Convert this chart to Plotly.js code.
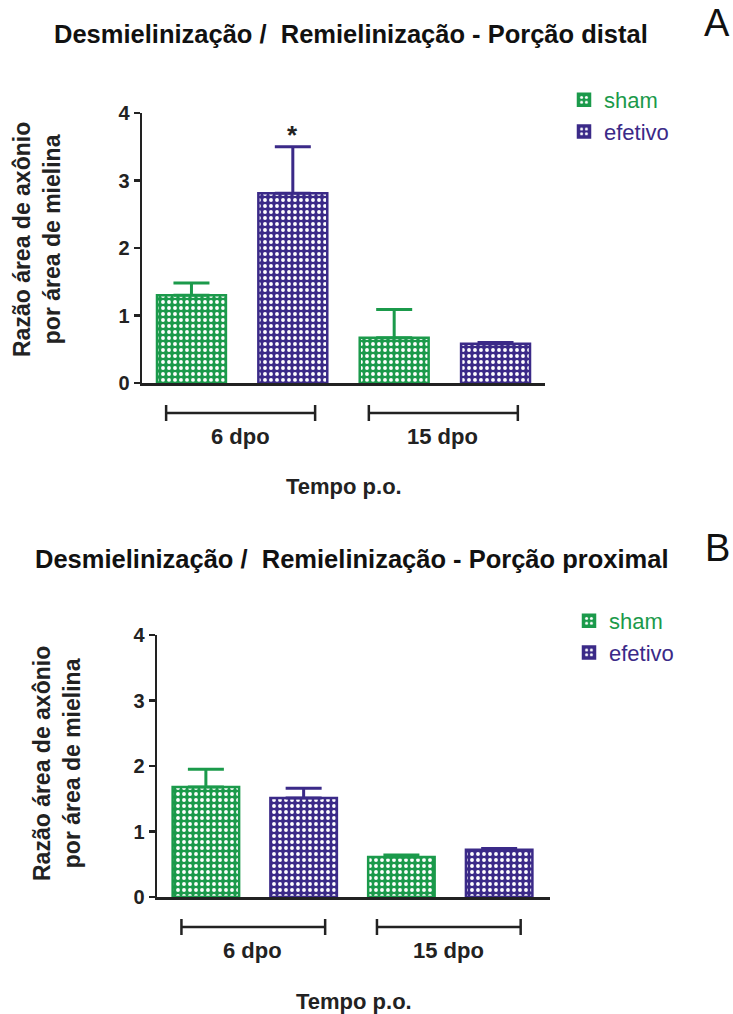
<!DOCTYPE html>
<html>
<head>
<meta charset="utf-8">
<script src="https://cdn.plot.ly/plotly-3.0.1.min.js"></script>
<style>html,body{margin:0;padding:0;background:#fff;}#chart{width:733px;height:1014px;}</style>
</head>
<body>
<div id="chart"></div>
<script>
// ---- data ----
const groups = ['6 dpo', '15 dpo'];
const seriesNames = ['sham', 'efetivo'];
const yTicks = [0, 1, 2, 3, 4];

const distalSham = [1.30, 0.67];
const distalShamErr = [0.18, 0.42];
const distalEfetivo = [2.81, 0.58];
const distalEfetivoErr = [0.69, 0.02];

const proximalSham = [1.68, 0.61];
const proximalShamErr = [0.27, 0.03];
const proximalEfetivo = [1.51, 0.72];
const proximalEfetivoErr = [0.15, 0.02];

const titleDistal = 'Desmielinização /\u00a0 Remielinização - Porção distal';
const titleProximal = 'Desmielinização /\u00a0 Remielinização - Porção proximal';
const yTitle = 'Razão área de axônio<br>por área de mielina';
const xTitle = 'Tempo p.o.';
const significance = '*';

// ---- style ----
const W = 733, H = 1014;
const FONT = 'Liberation Sans, Arial, Helvetica, sans-serif';
const GREEN = '#1b9a4b';
const PURPLE = '#3b2a88';
const AXIS = '#222222';
const px = p => p / W;
const py = p => 1 - p / H;

function barTrace(name, color, y, err, xa, ya, legend) {
  return {
    type: 'bar',
    name: '<span style="color:' + color + '">' + name + '</span>',
    x: groups, y: y, xaxis: xa, yaxis: ya, legend: legend,
    marker: {
      color: color,
      line: {color: color, width: 2.5},
      pattern: {shape: '.', fgcolor: '#ffffff', bgcolor: color, size: 6, solidity: 0.32, fillmode: 'replace'}
    },
    error_y: {type: 'data', symmetric: false, array: err, arrayminus: [0, 0],
              color: color, thickness: 3, width: 18},
    hoverinfo: 'skip'
  };
}

const data = [
  barTrace(seriesNames[0], GREEN, distalSham, distalShamErr, 'x', 'y', 'legend'),
  barTrace(seriesNames[1], PURPLE, distalEfetivo, distalEfetivoErr, 'x', 'y', 'legend'),
  barTrace(seriesNames[0], GREEN, proximalSham, proximalShamErr, 'x2', 'y2', 'legend2'),
  barTrace(seriesNames[1], PURPLE, proximalEfetivo, proximalEfetivoErr, 'x2', 'y2', 'legend2')
];

function xAxis(domain, range, anchor) {
  return {domain: domain, range: range, anchor: anchor, type: 'category',
          showline: true, linecolor: AXIS, linewidth: 2.5, ticks: '', showticklabels: false,
          showgrid: false, zeroline: false, fixedrange: true};
}
function yAxis(domain, anchor) {
  return {domain: domain, range: [0, 4], anchor: anchor, tickvals: yTicks,
          showline: true, linecolor: AXIS, linewidth: 2.5, ticks: 'outside', ticklen: 6,
          tickwidth: 2.5, tickcolor: AXIS, showgrid: false, zeroline: false,
          tickfont: {family: FONT, size: 20, color: '#222', weight: 'bold'}, fixedrange: true};
}

// panel geometry (pixels)
const panels = [
  {xa: 'x', x0: 142, x1: 545, yTop: 113, yBot: 383, title: titleDistal, titleY: 34, letter: 'A', letterX: 732, letterY: 23,
   bracketY: 413, labelY: 436, xTitleY: 486, yTitleX: 37, yTitleY: 240},
  {xa: 'x2', x0: 157, x1: 550, yTop: 635, yBot: 897, title: titleProximal, titleY: 559, letter: 'B', letterX: 732, letterY: 548,
   bracketY: 927, labelY: 950, xTitleY: 1001, yTitleX: 57, yTitleY: 763}
];

const shapes = [];
const annotations = [];
panels.forEach(p => {
  groups.forEach((g, i) => {
    const a = i - 0.375, b = i + 0.36;
    shapes.push({type: 'line', xref: p.xa, yref: 'paper', x0: a, x1: b, y0: py(p.bracketY), y1: py(p.bracketY), line: {color: AXIS, width: 2.5}});
    shapes.push({type: 'line', xref: p.xa, yref: 'paper', x0: a, x1: a, y0: py(p.bracketY - 8), y1: py(p.bracketY + 8), line: {color: AXIS, width: 2.5}});
    shapes.push({type: 'line', xref: p.xa, yref: 'paper', x0: b, x1: b, y0: py(p.bracketY - 8), y1: py(p.bracketY + 8), line: {color: AXIS, width: 2.5}});
    annotations.push({xref: p.xa, yref: 'paper', x: i - 0.01, y: py(p.labelY), text: g, showarrow: false,
      xanchor: 'center', yanchor: 'middle', font: {family: FONT, size: 22, color: '#222', weight: 'bold'}});
  });
  annotations.push({xref: 'paper', yref: 'paper', x: px((p.x0 + p.x1) / 2), y: py(p.xTitleY), text: xTitle, showarrow: false,
    xanchor: 'center', yanchor: 'middle', font: {family: FONT, size: 22, color: '#222', weight: 'bold'}});
  annotations.push({xref: 'paper', yref: 'paper', x: px(p.yTitleX), y: py(p.yTitleY), text: yTitle, showarrow: false,
    textangle: -90, xanchor: 'center', yanchor: 'middle', font: {family: FONT, size: 23, color: '#222', weight: 'bold'}});
  annotations.push({xref: 'paper', yref: 'paper', x: px(351), y: py(p.titleY), text: p.title, showarrow: false,
    xanchor: 'center', yanchor: 'middle', font: {family: FONT, size: 25.5, color: '#111', weight: 'bold'}});
  annotations.push({xref: 'paper', yref: 'paper', x: px(p.letterX), y: py(p.letterY), text: p.letter, showarrow: false,
    xanchor: 'right', yanchor: 'middle', font: {family: FONT, size: 38, color: '#111'}});
});

// significance mark above efetivo bar at 6 dpo (distal)
annotations.push({xref: 'x', yref: 'y', x: 0.25, y: distalEfetivo[0] + distalEfetivoErr[0] + 0.17,
  text: significance, showarrow: false, xanchor: 'center', yanchor: 'middle',
  font: {family: FONT, size: 26, color: '#222', weight: 'bold'}});

const legendBase = {orientation: 'v', xanchor: 'left', yanchor: 'top', bgcolor: 'rgba(0,0,0,0)',
  borderwidth: 0, font: {family: FONT, size: 22}, traceorder: 'normal', itemclick: false, itemdoubleclick: false};

const layout = {
  width: W, height: H, autosize: false,
  margin: {l: 0, r: 0, t: 0, b: 0, pad: 0},
  paper_bgcolor: '#ffffff', plot_bgcolor: 'rgba(0,0,0,0)',
  font: {family: FONT},
  barmode: 'group', bargap: 0, bargroupgap: 0.32,
  showlegend: true,
  legend: Object.assign({}, legendBase, {x: px(564), y: py(79)}),
  legend2: Object.assign({}, legendBase, {x: px(569), y: py(600)}),
  xaxis: xAxis([px(142), px(545)], [-0.494, 1.494], 'y'),
  yaxis: yAxis([py(383), py(113)], 'x'),
  xaxis2: xAxis([px(157), px(550)], [-0.5, 1.51], 'y2'),
  yaxis2: yAxis([py(897), py(635)], 'x2'),
  shapes: shapes,
  annotations: annotations
};

Plotly.newPlot('chart', data, layout, {displayModeBar: false, staticPlot: true});
</script>
</body>
</html>
